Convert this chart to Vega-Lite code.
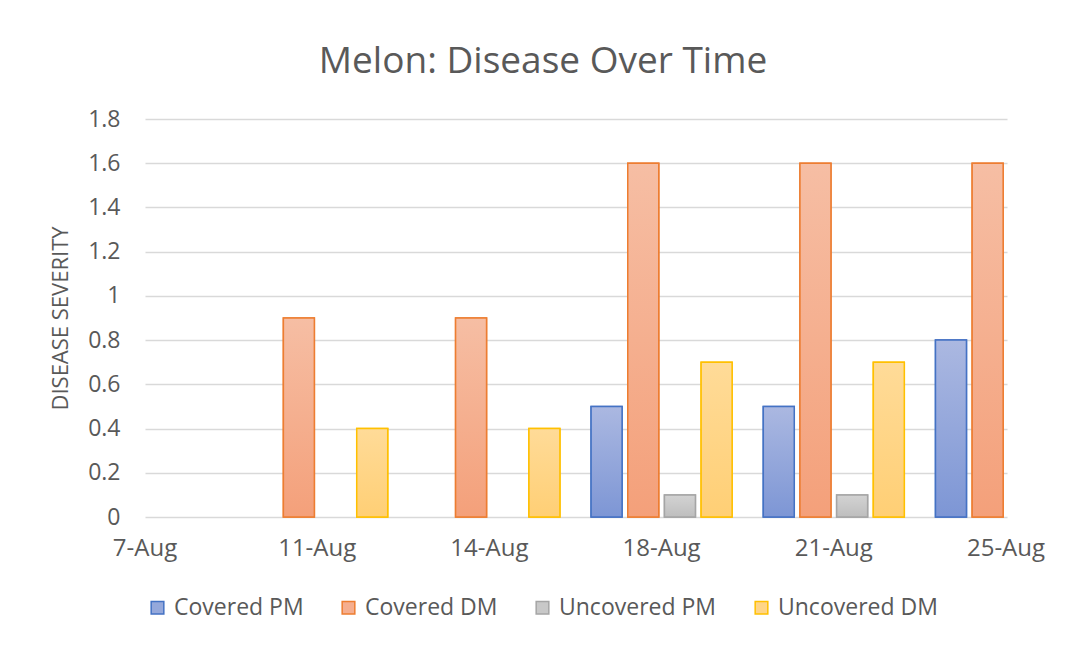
{
  "$schema": "https://vega.github.io/schema/vega-lite/v6.json",
  "width": 862,
  "height": 398,
  "autosize": {"type": "none"},
  "padding": {"left": 145, "top": 119, "right": 63, "bottom": 133},
  "background": "#ffffff",
  "config": {
    "view": {"stroke": null},
    "font": "Open Sans"
  },
  "title": {
    "text": "Melon: Disease Over Time",
    "font": "Open Sans",
    "fontSize": 37,
    "fontWeight": "normal",
    "color": "#595959",
    "anchor": "middle",
    "offset": 27,
    "dx": -33
  },
  "data": {
    "values": [
      {"date": "7-Aug", "series": "Covered PM", "severity": 0},
      {"date": "7-Aug", "series": "Covered DM", "severity": 0},
      {"date": "7-Aug", "series": "Uncovered PM", "severity": 0},
      {"date": "7-Aug", "series": "Uncovered DM", "severity": 0},
      {"date": "11-Aug", "series": "Covered PM", "severity": 0},
      {"date": "11-Aug", "series": "Covered DM", "severity": 0.9},
      {"date": "11-Aug", "series": "Uncovered PM", "severity": 0},
      {"date": "11-Aug", "series": "Uncovered DM", "severity": 0.4},
      {"date": "14-Aug", "series": "Covered PM", "severity": 0},
      {"date": "14-Aug", "series": "Covered DM", "severity": 0.9},
      {"date": "14-Aug", "series": "Uncovered PM", "severity": 0},
      {"date": "14-Aug", "series": "Uncovered DM", "severity": 0.4},
      {"date": "18-Aug", "series": "Covered PM", "severity": 0.5},
      {"date": "18-Aug", "series": "Covered DM", "severity": 1.6},
      {"date": "18-Aug", "series": "Uncovered PM", "severity": 0.1},
      {"date": "18-Aug", "series": "Uncovered DM", "severity": 0.7},
      {"date": "21-Aug", "series": "Covered PM", "severity": 0.5},
      {"date": "21-Aug", "series": "Covered DM", "severity": 1.6},
      {"date": "21-Aug", "series": "Uncovered PM", "severity": 0.1},
      {"date": "21-Aug", "series": "Uncovered DM", "severity": 0.7},
      {"date": "25-Aug", "series": "Covered PM", "severity": 0.8},
      {"date": "25-Aug", "series": "Covered DM", "severity": 1.6}
    ]
  },
  "transform": [{"filter": "datum.severity > 0"}],
  "encoding": {
    "x": {
      "field": "date",
      "type": "nominal",
      "sort": null,
      "scale": {
        "domain": ["7-Aug", "11-Aug", "14-Aug", "18-Aug", "21-Aug", "25-Aug"],
        "range": [-70.5, 931.5],
        "paddingInner": 0.181,
        "paddingOuter": 0
      },
      "axis": {
        "title": null,
        "labelAngle": 0,
        "labelFont": "Open Sans",
        "labelFontSize": 24,
        "labelColor": "#595959",
        "labelPadding": 19,
        "labelOverlap": false,
        "ticks": false,
        "domain": false,
        "grid": false
      }
    },
    "xOffset": {
      "field": "series",
      "type": "nominal",
      "scale": {
        "domain": ["Covered PM", "Covered DM", "Uncovered PM", "Uncovered DM"],
        "paddingInner": 0.155,
        "paddingOuter": 0
      }
    },
    "y": {
      "field": "severity",
      "type": "quantitative",
      "scale": {"domain": [0, 1.8], "nice": false},
      "axis": {
        "title": "DISEASE SEVERITY",
        "values": [0, 0.2, 0.4, 0.6, 0.8, 1, 1.2, 1.4, 1.6, 1.8],
        "format": ".1~f",
        "labelFont": "Open Sans",
        "labelFontSize": 23,
        "labelColor": "#595959",
        "labelPadding": 887,
        "grid": false,
        "ticks": true,
        "tickSize": -862,
        "tickColor": "#d9d9d9",
        "tickWidth": 1.5,
        "domain": false,
        "titleFont": "Open Sans",
        "titleFontSize": 22,
        "titleFontWeight": "normal",
        "titleColor": "#595959",
        "titlePadding": 15
      }
    },
    "stroke": {
      "field": "series",
      "type": "nominal",
      "scale": {
        "domain": ["Covered PM", "Covered DM", "Uncovered PM", "Uncovered DM"],
        "range": ["#4472c4", "#ed7d31", "#a5a5a5", "#ffc000"]
      },
      "legend": {
        "title": null,
        "orient": "none",
        "legendX": 1,
        "legendY": 477,
        "direction": "horizontal",
        "symbolType": "square",
        "symbolSize": 160,
        "symbolStrokeWidth": 1.5,
        "labelFont": "Open Sans",
        "labelFontSize": 23,
        "labelColor": "#595959",
        "labelOffset": 5,
        "columnPadding": 33
      }
    }
  },
  "layer": [
    {
      "mark": {"type": "bar", "strokeWidth": 1.5},
      "encoding": {
        "color": {
          "field": "series",
          "type": "nominal",
          "scale": {
            "domain": ["Covered PM", "Covered DM", "Uncovered PM", "Uncovered DM"],
            "range": ["#95a8db", "#f5ae8f", "#c8c8c8", "#ffd587"]
          },
          "legend": {
            "title": null,
            "orient": "none",
            "legendX": 1,
            "legendY": 477,
            "direction": "horizontal",
            "symbolType": "square",
            "symbolSize": 160,
            "symbolStrokeWidth": 1.5,
            "labelFont": "Open Sans",
            "labelFontSize": 23,
            "labelColor": "#595959",
            "labelOffset": 5,
            "columnPadding": 33
          }
        }
      }
    },
    {
      "mark": {"type": "bar", "strokeWidth": 1.5},
      "encoding": {
        "fill": {
          "condition": [
            {
              "test": "datum.series === 'Covered PM'",
              "value": {"gradient": "linear", "x1": 0, "y1": 0, "x2": 0, "y2": 1,
                "stops": [{"offset": 0, "color": "#abb8e1"}, {"offset": 1, "color": "#7d96d5"}]}
            },
            {
              "test": "datum.series === 'Covered DM'",
              "value": {"gradient": "linear", "x1": 0, "y1": 0, "x2": 0, "y2": 1,
                "stops": [{"offset": 0, "color": "#f6bea4"}, {"offset": 1, "color": "#f4a07a"}]}
            },
            {
              "test": "datum.series === 'Uncovered PM'",
              "value": {"gradient": "linear", "x1": 0, "y1": 0, "x2": 0, "y2": 1,
                "stops": [{"offset": 0, "color": "#d3d3d3"}, {"offset": 1, "color": "#bebebe"}]}
            }
          ],
          "value": {"gradient": "linear", "x1": 0, "y1": 0, "x2": 0, "y2": 1,
            "stops": [{"offset": 0, "color": "#ffdb98"}, {"offset": 1, "color": "#ffcf75"}]}
        }
      }
    }
  ]
}
